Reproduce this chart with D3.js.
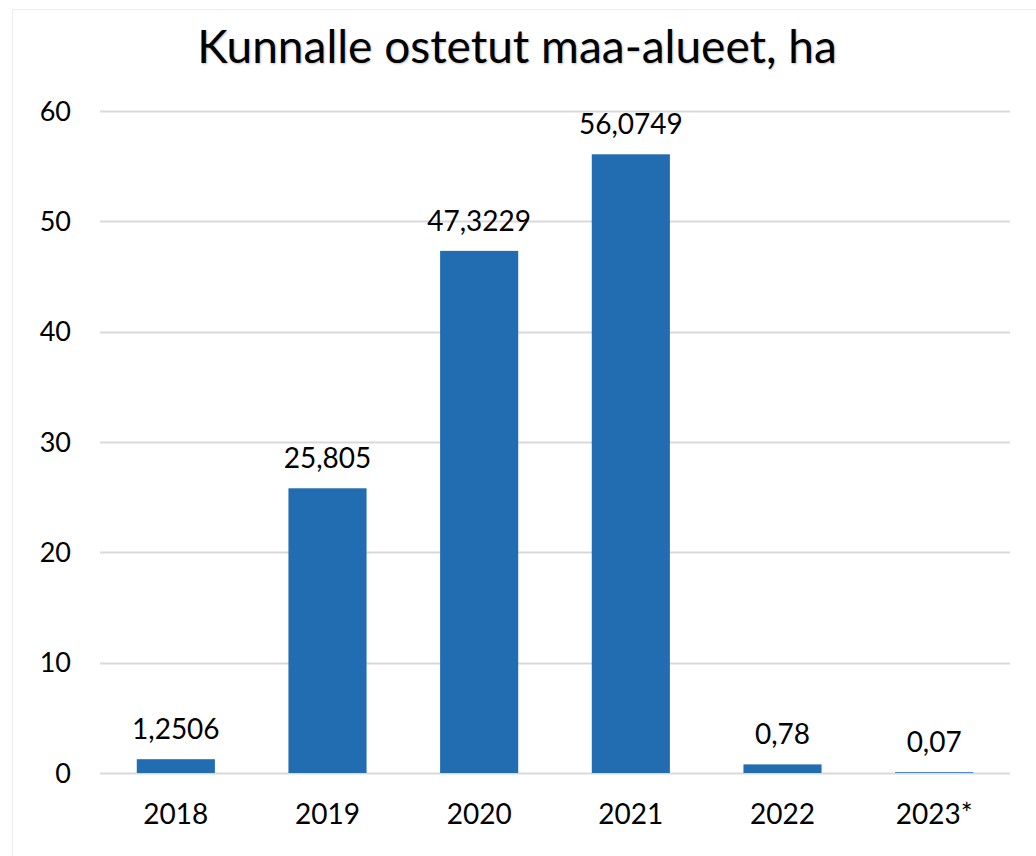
<!DOCTYPE html>
<html>
<head>
<meta charset="utf-8">
<script src="https://cdn.jsdelivr.net/npm/d3@7"></script>
<style>
  body { margin: 0; background: #fff; }
  text { font-family: Lato, "Open Sans", sans-serif; fill: #000; }
</style>
</head>
<body>
<script>
// data
const years = ["2018", "2019", "2020", "2021", "2022", "2023*"]
const hectares = [1.2506, 25.805, 47.3229, 56.0749, 0.78, 0.07]
const labels = ["1,2506", "25,805", "47,3229", "56,0749", "0,78", "0,07"]
const yTicks = [0, 10, 20, 30, 40, 50, 60]

const width = 1036, height = 856
const margin = { top: 111, right: 26, bottom: 83, left: 100 }

var svg = d3.select("body").append("svg")
  .attr("width", width)
  .attr("height", height)

// faint frame of the original chart area
svg.append("path")
  .attr("d", "M12.5," + height + "V9.5H" + width)
  .attr("fill", "none")
  .attr("stroke", "#ececec")
  .attr("stroke-width", 1)

svg.append("text")
  .attr("x", 517)
  .attr("y", 63)
  .attr("text-anchor", "middle")
  .style("font-size", "46px")
  .style("text-shadow", "1px 1px 2px rgba(0,0,0,0.25)")
  .text("Kunnalle ostetut maa-alueet, ha")

let x = d3.scaleBand()
  .domain(years)
  .range([margin.left, width - margin.right])
  .paddingInner(0.485)
  .paddingOuter(0.2425)

let y = d3.scaleLinear()
  .domain([0, 60])
  .range([height - margin.bottom, margin.top])

// gridlines
svg.append("g")
  .selectAll("line")
  .data(yTicks)
  .enter()
  .append("line")
  .attr("x1", margin.left)
  .attr("x2", width - margin.right)
  .attr("y1", d => Math.round(y(d)) + 0.5)
  .attr("y2", d => Math.round(y(d)) + 0.5)
  .attr("stroke", "#d9d9d9")
  .attr("stroke-width", 2)

// y tick labels
svg.append("g")
  .selectAll("text")
  .data(yTicks)
  .enter()
  .append("text")
  .attr("x", 71)
  .attr("y", d => y(d))
  .attr("dy", "0.36em")
  .attr("text-anchor", "end")
  .style("font-size", "27px")
  .text(d => d)

// bars
svg.append("g")
  .selectAll("rect")
  .data(hectares)
  .enter()
  .append("rect")
  .attr("x", (d, i) => x(years[i]))
  .attr("width", x.bandwidth())
  .attr("y", d => y(d))
  .attr("height", d => y(0) - y(d))
  .attr("fill", "#226cb2")

// value labels
svg.append("g")
  .selectAll("text")
  .data(hectares)
  .enter()
  .append("text")
  .attr("x", (d, i) => x(years[i]) + x.bandwidth() / 2)
  .attr("y", d => y(d) - 20)
  .attr("text-anchor", "middle")
  .style("font-size", "28px")
  .text((d, i) => labels[i])

// category labels
svg.append("g")
  .selectAll("text")
  .data(years)
  .enter()
  .append("text")
  .attr("x", d => x(d) + x.bandwidth() / 2)
  .attr("y", 824)
  .attr("text-anchor", "middle")
  .style("font-size", "28px")
  .text(d => d)
</script>
</body>
</html>
